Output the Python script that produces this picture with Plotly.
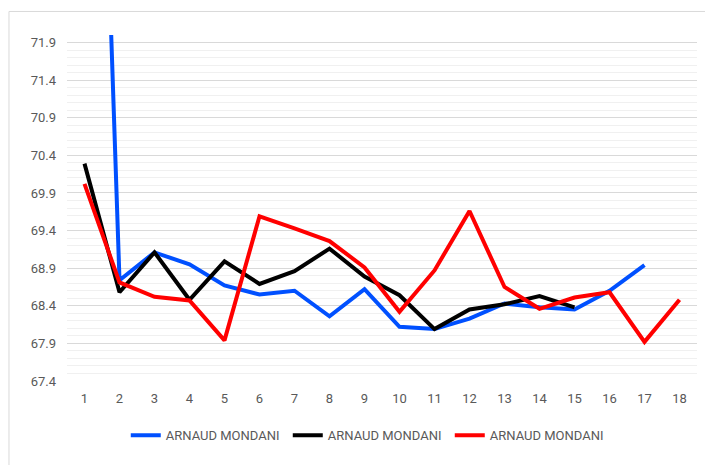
import plotly.graph_objects as go

# x categories
points = list(range(1, 19))
tick_labels = [str(p) for p in points]

# values (blue first point runs off the top of the chart)
blue_vals = [82.5, 68.74, 69.11, 68.95, 68.67, 68.55, 68.60, 68.26, 68.62,
             68.12, 68.09, 68.23, 68.43, 68.38, 68.35, 68.60, 68.94, None]
black_vals = [70.29, 68.58, 69.11, 68.48, 68.99, 68.69, 68.86, 69.16, 68.79,
              68.54, 68.09, 68.35, 68.42, 68.53, 68.38, None, None, None]
red_vals = [70.02, 68.71, 68.52, 68.47, 67.94, 69.59, 69.43, 69.26, 68.91,
            68.32, 68.87, 69.66, 68.65, 68.36, 68.51, 68.58, 67.92, 68.48]

series_name = "ARNAUD MONDANI"
grey = "#595959"

fig = go.Figure()
for vals, col in [(blue_vals, "#0050ff"), (black_vals, "#000000"), (red_vals, "#ff0000")]:
    fig.add_trace(go.Scatter(x=points, y=vals, name=series_name, mode="lines",
                             line=dict(color=col, width=4), connectgaps=False))

# page body adds 8px, so margins are shifted by that
fig.update_layout(
    width=713, height=465,
    margin=dict(l=59, r=24, t=27, b=92),
    paper_bgcolor="white", plot_bgcolor="white",
    font=dict(family="Roboto", size=13, color=grey),
    showlegend=True,
    legend=dict(orientation="h", x=0.479, xanchor="center", y=-0.157, yanchor="middle",
                entrywidth=117, font=dict(size=13, color=grey)),
    xaxis=dict(range=[0.5, 18.5], tickvals=points, ticktext=tick_labels,
               showgrid=False, zeroline=False, showline=False, ticks="",
               ticklabelstandoff=8),
    yaxis=dict(range=[67.4, 72.0], tick0=67.4, dtick=0.5, tickformat=".1f",
               showgrid=True, gridcolor="#d9d9d9", gridwidth=1,
               minor=dict(dtick=0.1, tick0=67.4, showgrid=True, gridcolor="#f0f0f0", gridwidth=1),
               zeroline=False, showline=False, ticks="", ticklabelstandoff=10),
    shapes=[dict(type="rect", xref="paper", yref="paper", x0=-0.0921, x1=1.2, y0=-0.4, y1=1.068,
                 line=dict(color="#d9d9d9", width=1), fillcolor="rgba(0,0,0,0)", layer="below")],
)

fig.write_html("out.html")
